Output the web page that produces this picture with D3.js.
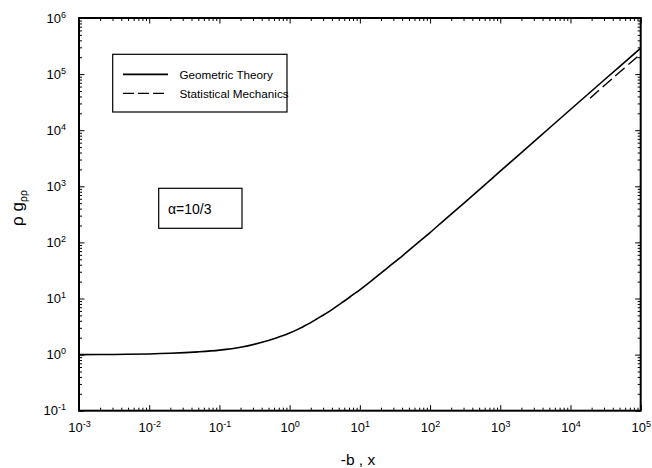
<!DOCTYPE html>
<html>
<head>
<meta charset="utf-8">
<script src="https://cdn.jsdelivr.net/npm/d3@7"></script>
<style>
  html, body { margin: 0; padding: 0; background: #fff; }
  svg { display: block; font-family: "Liberation Sans", Arial, sans-serif; }
</style>
</head>
<body>
<svg id="chart" width="652" height="468"></svg>
<script>
// Geometric theory curve: -b (x) against rho*g_pp
const geoX = [1e-3, 3.16e-3, 1e-2, 2e-2, 5e-2, 0.1, 0.2, 0.5, 0.63, 0.79, 1, 1.26, 1.58, 2, 2.5, 3.16, 4, 5, 6.3, 7.9,
              10, 15.8, 25, 40, 63, 100, 158, 316, 1e3, 3.16e3, 1e4, 3.16e4, 1e5];
const geoY = [1.0, 1.007, 1.026, 1.054, 1.12, 1.2, 1.35, 1.78, 1.95, 2.16, 2.43, 2.76, 3.18, 3.72, 4.4, 5.25, 6.32, 7.69, 9.4, 11.56,
              14.3, 22.4, 35.6, 57.1, 92.3, 150, 247, 524, 1860, 6590, 2.34e4, 8.26e4, 2.9e5];

// Statistical mechanics result, high-x end only
const statX = [1.9e4, 4e4, 1e5];
const statY = [3.7e4, 8.5e4, 2.28e5];

const xDecades = [1e-3, 1e-2, 1e-1, 1e0, 1e1, 1e2, 1e3, 1e4, 1e5];
const yDecades = [1e-1, 1e0, 1e1, 1e2, 1e3, 1e4, 1e5, 1e6];
const xExponents = ["-3", "-2", "-1", "0", "1", "2", "3", "4", "5"];
const yExponents = ["-1", "0", "1", "2", "3", "4", "5", "6"];

const seriesNames = ["Geometric Theory", "Statistical Mechanics"];
const annotation = "α=10/3";
const xTitle = "-b , x";

const svg = d3.select("#chart");
const pL = 79, pR = 640.7, pT = 18, pB = 410.7;

const x = d3.scaleLog().domain([1e-3, 1e5]).range([pL, pR]);
const y = d3.scaleLog().domain([1e-1, 1e6]).range([pB, pT]);

function minors(decades) {
  const out = [];
  for (let i = 0; i < decades.length - 1; i++)
    for (let k = 2; k <= 9; k++) out.push(decades[i] * k);
  return out;
}

// minor ticks on all four sides
const minorLen = 3, majorLen = 5.5;
svg.append("g").attr("transform", `translate(0,${pB})`)
  .call(d3.axisBottom(x).tickValues(minors(xDecades)).tickSize(-minorLen).tickFormat(""));
svg.append("g").attr("transform", `translate(0,${pT})`)
  .call(d3.axisTop(x).tickValues(minors(xDecades)).tickSize(-minorLen).tickFormat(""));
svg.append("g").attr("transform", `translate(${pL},0)`)
  .call(d3.axisLeft(y).tickValues(minors(yDecades)).tickSize(-minorLen).tickFormat(""));
svg.append("g").attr("transform", `translate(${pR},0)`)
  .call(d3.axisRight(y).tickValues(minors(yDecades)).tickSize(-minorLen).tickFormat(""));

// major ticks with labels
const xAxis = svg.append("g").attr("transform", `translate(0,${pB})`)
  .call(d3.axisBottom(x).tickValues(xDecades).tickSizeInner(-majorLen).tickSizeOuter(0).tickPadding(12));
svg.append("g").attr("transform", `translate(0,${pT})`)
  .call(d3.axisTop(x).tickValues(xDecades).tickSizeInner(-majorLen).tickSizeOuter(0).tickFormat(""));
const yAxis = svg.append("g").attr("transform", `translate(${pL},0)`)
  .call(d3.axisLeft(y).tickValues(yDecades).tickSizeInner(-majorLen).tickSizeOuter(0).tickPadding(13));
svg.append("g").attr("transform", `translate(${pR},0)`)
  .call(d3.axisRight(y).tickValues(yDecades).tickSizeInner(-majorLen).tickSizeOuter(0).tickFormat(""));

svg.selectAll(".domain").remove();
svg.selectAll(".tick line").attr("stroke", "#000").attr("stroke-width", 1);

function powerLabel(sel, exps, vals) {
  sel.selectAll(".tick text").each(function(d) {
    const t = d3.select(this);
    const e = exps[vals.indexOf(d)];
    t.text(null).attr("fill", "#000").attr("font-size", 13)
      .attr("font-family", "'Liberation Sans', Arial, sans-serif");
    t.append("tspan").text("10");
    t.append("tspan").attr("font-size", 9).attr("dy", "-0.55em").text(e);
  });
}
powerLabel(xAxis, xExponents, xDecades);
powerLabel(yAxis, yExponents, yDecades);

// plot frame
svg.append("rect")
  .attr("x", pL).attr("y", pT)
  .attr("width", pR - pL).attr("height", pB - pT)
  .attr("fill", "none").attr("stroke", "#000").attr("stroke-width", 2);

// curves
const line = d3.line().x(d => x(d[0])).y(d => y(d[1])).curve(d3.curveCatmullRom.alpha(0.5));
svg.append("clipPath").attr("id", "plotclip")
  .append("rect").attr("x", pL).attr("y", pT).attr("width", pR - pL).attr("height", pB - pT);

svg.append("path")
  .datum(geoX.map((v, i) => [v, geoY[i]]))
  .attr("d", line).attr("fill", "none").attr("stroke", "#000").attr("stroke-width", 1.6)
  .attr("clip-path", "url(#plotclip)");
svg.append("path")
  .datum(statX.map((v, i) => [v, statY[i]]))
  .attr("d", line).attr("fill", "none").attr("stroke", "#000").attr("stroke-width", 1.4)
  .attr("stroke-dasharray", "12,5")
  .attr("clip-path", "url(#plotclip)");

// legend
const lg = svg.append("g");
lg.append("rect").attr("x", 112.7).attr("y", 54.3).attr("width", 174.3).attr("height", 57.7)
  .attr("fill", "#fff").attr("stroke", "#000").attr("stroke-width", 1.2);
const legendRows = [{ y: 74.3, dash: null }, { y: 93.3, dash: "11,4" }];
legendRows.forEach((r, i) => {
  lg.append("line").attr("x1", 123).attr("x2", 168).attr("y1", r.y).attr("y2", r.y)
    .attr("stroke", "#000").attr("stroke-width", i === 0 ? 1.8 : 1.3)
    .attr("stroke-dasharray", r.dash);
  lg.append("text").attr("x", 179.5).attr("y", r.y + 4.3)
    .attr("font-size", 11.7).attr("fill", "#000").text(seriesNames[i]);
});

// parameter box
const ab = svg.append("g");
ab.append("rect").attr("x", 158.7).attr("y", 188.3).attr("width", 83.3).attr("height", 40)
  .attr("fill", "#fff").attr("stroke", "#000").attr("stroke-width", 1.2);
ab.append("text").attr("x", 168).attr("y", 214).attr("font-size", 14).attr("fill", "#000").text(annotation);

// axis titles
svg.append("text").attr("x", 358).attr("y", 465).attr("text-anchor", "middle")
  .attr("font-size", 15.5).attr("fill", "#000").text(xTitle);

const yt = svg.append("text").attr("transform", "translate(23,208) rotate(-90)")
  .attr("text-anchor", "middle").attr("font-size", 17).attr("fill", "#000");
yt.append("tspan").text("ρ g");
yt.append("tspan").attr("font-size", 10.5).attr("dy", "0.35em").text("ρρ");
</script>
</body>
</html>
